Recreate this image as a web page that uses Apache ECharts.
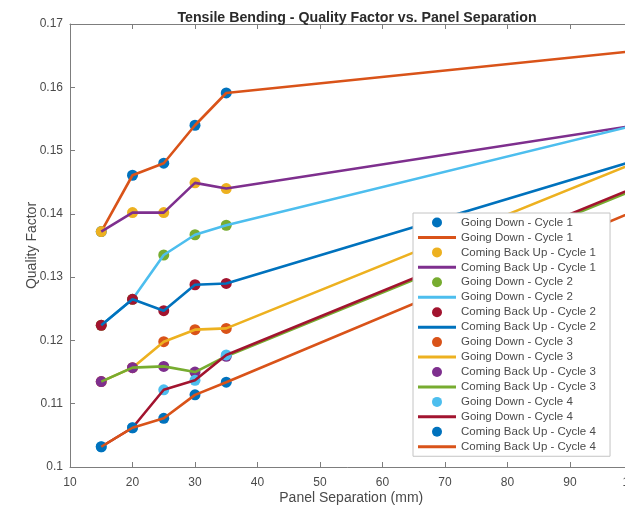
<!DOCTYPE html>
<html>
<head>
<meta charset="utf-8">
<script src="https://cdn.jsdelivr.net/npm/echarts@6/dist/echarts.min.js"></script>
<style>
  html, body { margin: 0; padding: 0; background: #fff; }
  #chart { width: 625px; height: 511px; }
</style>
</head>
<body>
<div id="chart"></div>
<script>
// Panel separations (mm) where the quality factor was measured
const separation = [15, 20, 25, 30, 35];
// Trend lines run on to the end of the axis
const trendEnd = 100;

// Measured quality factor per run
const goingDownC1   = [0.1372, 0.1461, 0.1480, 0.1540, 0.1591];
const comingUpC1    = [0.1372, 0.1402, 0.1402, 0.1449, 0.1440];
const goingDownC2   = [0.1224, 0.1265, 0.1335, 0.1367, 0.1382];
const comingUpC2    = [0.1224, 0.1265, 0.1247, 0.1288, 0.1290];
const goingDownC3   = [0.1135, 0.1157, 0.1198, 0.1217, 0.1219];
const comingUpC3    = [0.1135, 0.1157, 0.1159, 0.1150, 0.1175];
const goingDownC4   = [0.1032, 0.1062, 0.1122, 0.1137, 0.1177];
const comingUpC4    = [0.1032, 0.1062, 0.1077, 0.1114, 0.1134];

// Trend value at the end of the axis, same order as the runs above
const trendEndValues = [0.1657, 0.1539, 0.1539, 0.1483, 0.1479, 0.1437, 0.1440, 0.1403];

const runNames = [
  'Going Down - Cycle 1', 'Coming Back Up - Cycle 1',
  'Going Down - Cycle 2', 'Coming Back Up - Cycle 2',
  'Going Down - Cycle 3', 'Coming Back Up - Cycle 3',
  'Going Down - Cycle 4', 'Coming Back Up - Cycle 4'
];
const runValues = [goingDownC1, comingUpC1, goingDownC2, comingUpC2,
                   goingDownC3, comingUpC3, goingDownC4, comingUpC4];

// MATLAB default colour order, cycled across marker and line series
const palette = ['#0072BD', '#D95319', '#EDB120', '#7E2F8E', '#77AC30', '#4DBEEE', '#A2142F'];

const series = [];
const legendData = [];
let colorIdx = 0;
const barIcon = 'path://M0,0 L38,0 L38,3 L0,3 Z';

runNames.forEach((name, i) => {
  const pts = separation.map((x, j) => [x, runValues[i][j]]);
  const markerColor = palette[colorIdx++ % palette.length];
  const lineColor = palette[colorIdx++ % palette.length];
  // marker series
  series.push({
    name: name,
    type: 'scatter',
    data: pts,
    symbol: 'circle',
    symbolSize: 11,
    itemStyle: { color: markerColor, opacity: 1 },
    z: 2 + i * 0.01
  });
  // line series (trailing space keeps the legend entry distinct)
  const lineName = name + ' ';
  series.push({
    name: lineName,
    type: 'line',
    data: pts.concat([[trendEnd, trendEndValues[i]]]),
    showSymbol: false,
    symbol: 'none',
    lineStyle: { color: lineColor, width: 2.6 },
    itemStyle: { color: lineColor },
    z: 2 + i * 0.01 + 0.005
  });
  legendData.push({ name: name, icon: 'circle' });
  legendData.push({ name: lineName, icon: barIcon });
});

const axisGray = '#7d7d7d';
const textGray = '#4a4a4a';
const fontFam = '"Liberation Sans", Arial, Helvetica, sans-serif';

const chart = echarts.init(document.getElementById('chart'), null, { renderer: 'canvas' });
chart.setOption({
  animation: false,
  backgroundColor: '#ffffff',
  title: {
    text: 'Tensile Bending - Quality Factor vs. Panel Separation',
    left: 352,
    top: 6,
    textAlign: 'center',
    textStyle: { fontFamily: fontFam, fontSize: 14.2, fontWeight: 'bold', color: '#2a2a2a' }
  },
  // the plot box runs a little past the right edge of the canvas
  grid: {
    left: 70, top: 24, width: 562.5, height: 443,
    containLabel: false,
    outerBoundsMode: 'none'
  },
  legend: {
    data: legendData,
    orient: 'vertical',
    left: 413,
    top: 213,
    itemWidth: 38,
    itemHeight: 10,
    itemGap: 2.95,
    padding: [3.5, 11, 3.5, 5],
    backgroundColor: '#ffffff',
    borderColor: '#c4c4c4',
    borderWidth: 1,
    textStyle: { fontFamily: fontFam, fontSize: 11.5, color: textGray, lineHeight: 11 }
  },
  xAxis: [{
    type: 'value',
    min: 10, max: 100, interval: 10,
    name: 'Panel Separation (mm)',
    nameLocation: 'middle',
    nameGap: 24,
    nameMoveOverlap: false,
    nameTextStyle: { fontFamily: fontFam, fontSize: 14, color: textGray },
    axisLine: { show: true, onZero: false, lineStyle: { color: axisGray, width: 1 } },
    axisTick: { show: true, inside: true, length: 5, lineStyle: { color: axisGray } },
    axisLabel: { fontFamily: fontFam, fontSize: 12, color: textGray, margin: 10 },
    splitLine: { show: false }
  }, {
    type: 'value',
    position: 'top',
    min: 10, max: 100, interval: 10,
    axisLine: { show: true, onZero: false, lineStyle: { color: axisGray, width: 1 } },
    axisTick: { show: true, inside: true, length: 5, lineStyle: { color: axisGray } },
    axisLabel: { show: false },
    splitLine: { show: false }
  }],
  yAxis: {
    type: 'value',
    min: 0.1, max: 0.17, interval: 0.01,
    name: 'Quality Factor',
    nameLocation: 'middle',
    nameGap: 31,
    nameMoveOverlap: false,
    nameTextStyle: { fontFamily: fontFam, fontSize: 14, color: textGray },
    axisLine: { show: true, onZero: false, lineStyle: { color: axisGray, width: 1 } },
    axisTick: { show: true, inside: true, length: 5, lineStyle: { color: axisGray } },
    axisLabel: {
      fontFamily: fontFam, fontSize: 12, color: textGray, margin: 7,
      formatter: v => String(Math.round(v * 100) / 100)
    },
    splitLine: { show: false }
  },
  series: series
});
</script>
</body>
</html>
